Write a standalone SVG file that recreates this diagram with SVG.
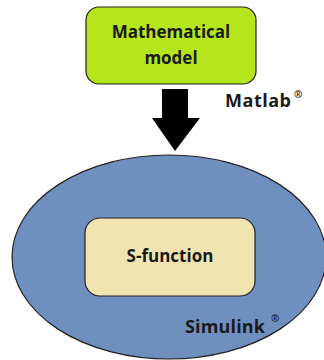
<svg xmlns="http://www.w3.org/2000/svg" width="324" height="360" viewBox="0 0 324 360">
<style>
text{font-family:"Open Sans","Liberation Sans",sans-serif;font-weight:bold;fill:#1a1a1a}
.box{stroke:#222;stroke-width:1.2}
.lbl{font-size:17px;text-anchor:middle}
.big{font-size:18px}
.reg{font-size:10px}
</style>
<rect width="324" height="360" fill="#fff"/>
<g id="simulink">
<ellipse cx="169" cy="257" rx="157" ry="102" fill="#6F8FBF" class="box"/>
<text x="185" y="333" class="big" textLength="80">Simulink</text>
<text x="271" y="322" class="reg">®</text>
</g>
<g id="sfunction">
<rect x="85" y="218" width="170" height="78" rx="15" fill="#EFE4B0" class="box"/>
<text x="170" y="262" class="lbl">S-function</text>
</g>
<g id="model">
<rect x="86" y="7" width="170" height="77" rx="13" fill="#B5E61D" class="box"/>
<text x="171" y="38" class="lbl">Mathematical</text>
<text x="171" y="64" class="lbl">model</text>
</g>
<g id="connectors">
<polygon points="162,89 188,89 188,118 200,118 175,151 152,118 162,118" fill="#000"/>
</g>
<g id="matlab">
<text x="225" y="107" class="big" textLength="66">Matlab</text>
<text x="294" y="98" class="reg">®</text>
</g>
</svg>
